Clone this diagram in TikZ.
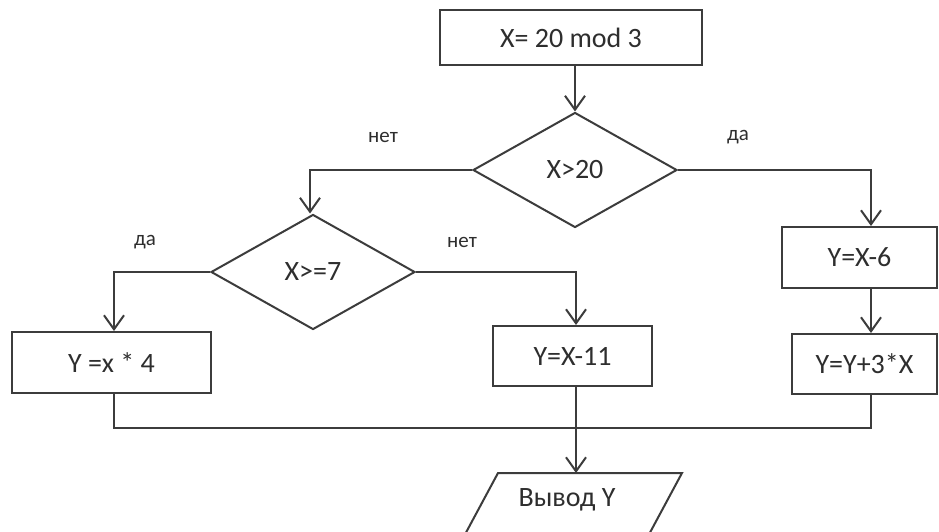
\documentclass[tikz,border=0pt]{standalone}
\usepackage{fontspec}
\setmainfont{Carlito}
\usetikzlibrary{arrows.meta,shapes.geometric}
\definecolor{ln}{HTML}{3C3C3C}
\definecolor{tx}{HTML}{2E2E2E}
\tikzset{
  boxnode/.style={draw=ln,line width=2pt,rectangle,inner sep=0pt,text=tx,font=\fontsize{28}{30}\selectfont},
  decnode/.style={draw=ln,line width=2pt,diamond,inner sep=0pt,text=tx,font=\fontsize{28}{30}\selectfont},
  lbl/.style={text=tx,font=\fontsize{21}{23}\selectfont,inner sep=0pt},
  conn/.style={draw=ln,line width=2pt},
  arr/.style={conn,-{Straight Barb[length=14pt,width=20pt,line width=2pt]}}
}
\begin{document}
\begin{tikzpicture}[x=1pt,y=-1pt]
\clip (0,0) rectangle (939,532);
\fill[white] (0,0) rectangle (939,532);
% boxes
\node[boxnode,minimum width=262pt,minimum height=55pt] (top) at (571,37.5) {X= 20 mod 3};
\node[decnode,minimum width=204pt,minimum height=115pt,aspect=1.77] (d1) at (575,170) {X>20};
\node[decnode,minimum width=204pt,minimum height=115pt,aspect=1.77] (d2) at (313,272) {X>=7};
\node[boxnode,minimum width=155pt,minimum height=61pt] (b6) at (859.5,257.5) {Y=X-6};
\node[boxnode,minimum width=145pt,minimum height=60pt] (b3) at (864.5,364) {Y=Y+3*X};
\node[boxnode,minimum width=199pt,minimum height=61pt] (b4) at (111.5,362.5) {Y =x * 4};
\node[boxnode,minimum width=159pt,minimum height=60pt] (b11) at (572.5,356) {Y=X-11};
% output parallelogram (cut by the frame)
\coordinate (ptop) at (576,473);
\draw[conn,line join=miter] (682,473) -- (498,473) -- (455,553) -- (639,553) -- cycle;
\node[text=tx,font=\fontsize{28}{30}\selectfont,inner sep=0pt] (out) at (567,500) {Вывод Y};
% column coordinates
\coordinate (cr) at (871,0);
\coordinate (cl) at (114,0);
\coordinate (cm) at (576,0);
\coordinate (cd) at (310,0);
% connectors
\draw[arr] (top.south -| 575,0) -- (d1.north);
\draw[arr] (d1.west) -| (cd |- d2.north);
\draw[arr] (d1.east) -| (cr |- b6.north);
\draw[arr] (cr |- b6.south) -- (cr |- b3.north);
\draw[arr] (d2.west) -| (cl |- b4.north);
\draw[arr] (d2.east) -| (cm |- b11.north);
\coordinate (mj) at (576,428);
\draw[conn] (cl |- b4.south) |- (mj) -| (cr |- b3.south);
\draw[arr] (cm |- b11.south) -- (ptop);
% labels
\node[lbl] (l1) at (383,137) {нет};
\node[lbl] (l2) at (738,137) {да};
\node[lbl] (l3) at (145,242) {да};
\node[lbl] (l4) at (462,242) {нет};
\end{tikzpicture}
\end{document}
